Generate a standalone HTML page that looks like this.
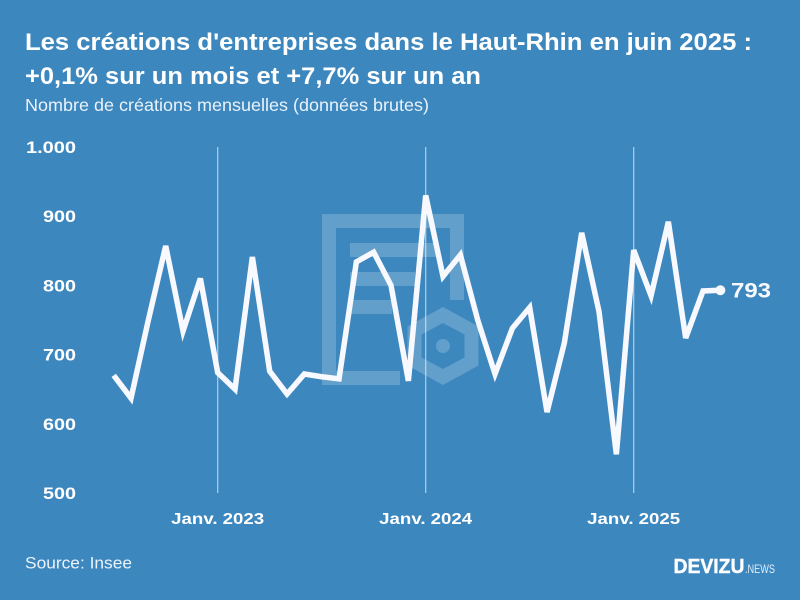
<!DOCTYPE html>
<html lang="fr">
<head>
<meta charset="utf-8">
<title>Créations d'entreprises Haut-Rhin</title>
<style>
html,body{margin:0;padding:0;background:#3d87bf;}
svg{display:block;font-family:"Liberation Sans",sans-serif;}
</style>
</head>
<body>
<svg id="chart" xmlns="http://www.w3.org/2000/svg" width="800" height="600" viewBox="0 0 800 600">
  <rect width="800" height="600" fill="#3d87bf"/>
  <g fill="#fff" fill-opacity="0.2">
    <path d="M322 214H464V300H450V228H336V371H400V385H322Z"/>
    <rect x="350" y="243" width="86" height="14"/>
    <rect x="350" y="272" width="65" height="14"/>
    <rect x="350" y="300" width="42" height="14"/>
    <path fill-rule="evenodd" d="M443 307L478.500 326.500V365.500L443 385L407.500 365.500V326.500ZM443 323L421.500 334.500V357.500L443 369L464.500 357.500V334.500Z"/>
    <circle cx="443" cy="346" r="7"/>
  </g>
  <text x="25" y="50" font-size="24" font-weight="700" fill="#fff" textLength="727" lengthAdjust="spacingAndGlyphs">Les créations d'entreprises dans le Haut-Rhin en juin 2025 :</text>
  <text x="25" y="84" font-size="24" font-weight="700" fill="#fff" textLength="456" lengthAdjust="spacingAndGlyphs">+0,1% sur un mois et +7,7% sur un an</text>
  <text x="25" y="111" font-size="17.500" fill="#eaf2fa" textLength="404" lengthAdjust="spacingAndGlyphs">Nombre de créations mensuelles (données brutes)</text>
  <g id="grid"></g>
  <g id="yaxis"></g>
  <g id="xaxis"></g>
  <g id="series"></g>
  <text x="25" y="568.500" font-size="17" fill="#eaf2fa" textLength="107" lengthAdjust="spacingAndGlyphs">Source: Insee</text>
  <g>
    <text x="673.500" y="573" font-size="20.500" font-weight="700" fill="#fff" stroke="#fff" stroke-width="0.4" textLength="71" lengthAdjust="spacingAndGlyphs">DEVIZU</text>
    <text x="745" y="573" font-size="11.500" fill="#e3eef8" textLength="30" lengthAdjust="spacingAndGlyphs">.NEWS</text>
  </g>
</svg>
<script>
var values = [670,637,750,857,734,810,674,650,841,676,643,672,668,665,834,848,800,662,930,813,844,750,672,738,768,617,717,876,762,556,851,785,892,724,792,793];
var yTicks = [500,600,700,800,900,1000];
var yTickLabels = ['500','600','700','800','900','1.000'];
var xTickMonths = [6,18,30];
var xTickLabels = ['Janv. 2023','Janv. 2024','Janv. 2025'];
var lastLabel = '793';

var NS = 'http://www.w3.org/2000/svg';
function xScale(m){ return 113.7 + m * (634 - 218) / 24; }
function yScale(v){ return 493 - (v - 500) * (493 - 147) / 500; }
function make(tag, parentId, attrs){
  var el = document.createElementNS(NS, tag);
  for (var k in attrs){ el.setAttribute(k, attrs[k]); }
  document.getElementById(parentId).appendChild(el);
  return el;
}

xTickMonths.forEach(function(m, i){
  var line = make('line', 'grid', {x1:xScale(m), x2:xScale(m), y1:147, y2:493, stroke:'#fff', 'stroke-opacity':0.6, 'stroke-width':1.2});
  
  
  var t = make('text', 'xaxis', {x:xScale(m), y:524, 'text-anchor':'middle', 'font-size':16, 'font-weight':700, fill:'#fff', textLength:93, lengthAdjust:'spacingAndGlyphs'});
  
  
  t.textContent = xTickLabels[i];
});

yTicks.forEach(function(v, i){
  var t = make('text', 'yaxis', {x:76, y:yScale(v) + 6, 'text-anchor':'end', 'font-size':16.5, 'font-weight':700, fill:'#fff', textLength:(yTickLabels[i].length > 3 ? 50 : 33), lengthAdjust:'spacingAndGlyphs'});
  
  
  t.textContent = yTickLabels[i];
});

var pts = values.map(function(v, i){
  return xScale(i).toFixed(2) + ',' + yScale(v).toFixed(2);
}).join(' ');
var line = make('polyline', 'series', {points:pts, fill:'none', stroke:'#f8f9ff', 'stroke-width':5.5, 'stroke-linejoin':'miter', 'stroke-miterlimit':4});



var lastIdx = values.length - 1;
var dot = make('circle', 'series', {cx:xScale(lastIdx), cy:yScale(values[lastIdx]), r:5, fill:'#f8f9ff'});


var lab = make('text', 'series', {x:731, y:yScale(values[lastIdx]) + 7.5, 'font-size':21, 'font-weight':700, fill:'#f8f9ff', textLength:40, lengthAdjust:'spacingAndGlyphs'});


lab.textContent = lastLabel;
</script>
</body>
</html>
